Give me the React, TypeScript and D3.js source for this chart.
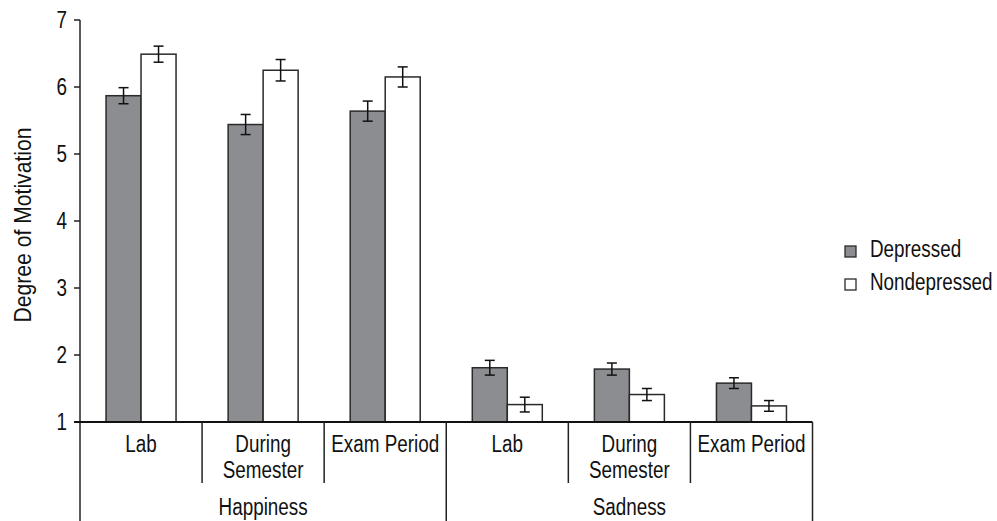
import React from "react";
import * as d3 from "d3";

const emotions = ["Happiness", "Sadness"];
const contexts = ["Lab", "During Semester", "Exam Period"];
const contextLines: string[][] = [["Lab"], ["During", "Semester"], ["Exam Period"]];
const seriesNames = ["Depressed", "Nondepressed"];
// values ordered: Happiness Lab, During, Exam, Sadness Lab, During, Exam
const depressedMeans = [5.87, 5.44, 5.64, 1.81, 1.79, 1.58];
const depressedErr = [0.12, 0.15, 0.15, 0.11, 0.09, 0.08];
const nondepressedMeans = [6.49, 6.25, 6.15, 1.26, 1.41, 1.24];
const nondepressedErr = [0.12, 0.16, 0.15, 0.11, 0.09, 0.08];
const yTicks = [1, 2, 3, 4, 5, 6, 7];
const yLabel = "Degree of Motivation";

const W = 997;
const H = 521;
const FONT = "'Liberation Sans', Arial, sans-serif";
const FS = 23;
const SX = 0.82;
const FILLS = ["#8c8d91", "#ffffff"];
const STROKE = "#2a2a2a";

function CText(props: { x: number; y: number; anchor?: string; children: React.ReactNode; fs?: number }) {
  return (
    <text
      transform={`translate(${props.x},${props.y}) scale(${SX},1)`}
      textAnchor={props.anchor || "start"}
      fontSize={props.fs || FS}
      fill="#111"
    >
      {props.children}
    </text>
  );
}

export default function App() {
  const left = 80;
  const right = 812.5;
  const top = 20;
  const bottom = 422;

  const groups = emotions.flatMap((e) => contexts.map((c) => `${e}|${c}`));
  const x = d3.scaleBand<string>().domain(groups).range([left, right]).padding(0);
  const bw = x.bandwidth();
  const po = (bw / 35 - 2) / 2;
  const xs = d3.scaleBand<string>().domain(seriesNames).range([0, bw]).paddingInner(0).paddingOuter(po);
  const y = d3.scaleLinear().domain([1, 7]).range([bottom, top]);

  const series = [
    { name: seriesNames[0], means: depressedMeans, errs: depressedErr, fill: FILLS[0] },
    { name: seriesNames[1], means: nondepressedMeans, errs: nondepressedErr, fill: FILLS[1] },
  ];

  const emoWidth = bw * contexts.length;

  return (
    <svg
      width={W}
      height={H}
      style={{ position: "absolute", left: 0, top: 0, background: "#fff" }}
      fontFamily={FONT}
    >
      <rect width={W} height={H} fill="#fff" />
      {/* bars */}
      {groups.map((g, gi) =>
        series.map((s) => {
          const bx = (x(g) as number) + (xs(s.name) as number);
          const v = s.means[gi];
          const e = s.errs[gi];
          const cx = bx + xs.bandwidth() / 2;
          return (
            <g key={g + s.name}>
              <rect
                x={bx}
                y={y(v)}
                width={xs.bandwidth()}
                height={bottom - y(v)}
                fill={s.fill}
                stroke={STROKE}
                strokeWidth={1.5}
              />
              <line x1={cx} x2={cx} y1={y(v + e)} y2={y(v - e)} stroke="#111" strokeWidth={1.5} />
              <line x1={cx - 5} x2={cx + 5} y1={y(v + e)} y2={y(v + e)} stroke="#111" strokeWidth={1.5} />
              <line x1={cx - 5} x2={cx + 5} y1={y(v - e)} y2={y(v - e)} stroke="#111" strokeWidth={1.5} />
            </g>
          );
        })
      )}
      {/* y axis */}
      <line x1={left} x2={left} y1={top} y2={H} stroke="#222" strokeWidth={1.5} />
      {yTicks.map((t) => (
        <g key={t}>
          <line x1={left - 6} x2={left} y1={y(t)} y2={y(t)} stroke="#222" strokeWidth={1.5} />
          <CText x={left - 13} y={y(t) + 8} anchor="end">
            {t}
          </CText>
        </g>
      ))}
      <text
        transform={`translate(31,${(top + bottom) / 2 + 4}) rotate(-90) scale(0.92,1)`}
        textAnchor="middle"
        fontSize={23}
        fill="#111"
      >
        {yLabel}
      </text>
      {/* x axis */}
      <line x1={left - 6} x2={right} y1={bottom} y2={bottom} stroke="#111" strokeWidth={2} />
      {groups.map((g, gi) => {
        const gx = x(g) as number;
        const ci = gi % contexts.length;
        const lines = contextLines[ci];
        return (
          <g key={"lab" + g}>
            {ci !== 0 && (
              <line x1={gx} x2={gx} y1={bottom} y2={483} stroke="#222" strokeWidth={1.5} />
            )}
            {lines.map((ln, li) => (
              <CText key={li} x={gx + bw / 2} y={452 + li * 26} anchor="middle">
                {ln}
              </CText>
            ))}
          </g>
        );
      })}
      {emotions.map((e, ei) => {
        const ex = left + ei * emoWidth;
        return (
          <g key={e}>
            <line x1={ex + emoWidth} x2={ex + emoWidth} y1={bottom} y2={H} stroke="#222" strokeWidth={1.5} />
            <CText x={ex + emoWidth / 2} y={515} anchor="middle">
              {e}
            </CText>
          </g>
        );
      })}
      {/* legend */}
      {series.map((s, i) => (
        <g key={"leg" + s.name}>
          <rect x={845} y={246 + i * 33} width={11} height={11} fill={s.fill} stroke={STROKE} strokeWidth={1.3} />
          <CText x={870} y={257 + i * 33}>
            {s.name}
          </CText>
        </g>
      ))}
    </svg>
  );
}
